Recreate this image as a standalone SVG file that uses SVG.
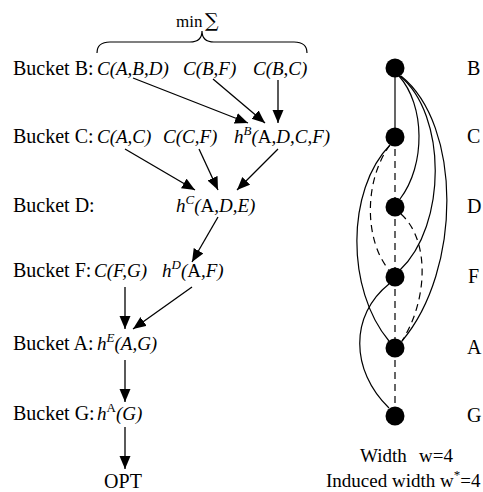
<svg xmlns="http://www.w3.org/2000/svg" width="483" height="492" viewBox="0 0 483 492">
<defs>
<marker id="ah" markerUnits="userSpaceOnUse" markerWidth="14" markerHeight="12" refX="13" refY="5.5" orient="auto">
<path d="M0,0 L13,5.5 L0,11 Z" fill="#000"/>
</marker>
<style>
text{font-family:"Liberation Serif","Times New Roman",serif;font-size:20px;fill:#000}
.i{font-style:italic;font-size:19px}
.n{font-style:normal}
.sup{font-size:13px}
.supn{font-size:13px;font-style:normal}
.cap{font-size:19px}
.arr{stroke:#000;stroke-width:1.3;fill:none;marker-end:url(#ah)}
.e{stroke:#000;stroke-width:1.2;fill:none}
.d{stroke-dasharray:7,5}
.node{fill:#000}
</style>
</defs>
<rect width="483" height="492" fill="#fff"/>

<g id="header">
<text x="176" y="27" style="font-size:17px">min</text>
<text x="205" y="27" style="font-family:'DejaVu Serif','Liberation Serif',serif;font-size:19px">∑</text>
<path class="e" d="M97,53 Q97,42 110,42 L190,42 Q202,42 202,31 Q202,42 214,42 L294,42 Q307,42 307,53"/>
</g>

<g id="bucketB">
<text x="13" y="75">Bucket B:</text>
<text x="97" y="75" class="i">C(A,B,D)</text>
<text x="183" y="75" class="i">C(B,F)</text>
<text x="253" y="75" class="i">C(B,C)</text>
</g>

<g id="bucketC">
<text x="13" y="143">Bucket C:</text>
<text x="97" y="143" class="i">C(A,C)</text>
<text x="163" y="143" class="i">C(C,F)</text>
<text x="234" y="143" class="i">h<tspan class="sup" dy="-8">B</tspan><tspan dy="8">(</tspan><tspan class="n">A</tspan>,D,C,F)</text>
</g>

<g id="bucketD">
<text x="13" y="212">Bucket D:</text>
<text x="176" y="212" class="i">h<tspan class="sup" dy="-8">C</tspan><tspan dy="8">(</tspan><tspan class="n">A</tspan>,D,E)</text>
</g>

<g id="bucketF">
<text x="13" y="277">Bucket F:</text>
<text x="94" y="277" class="i">C(F,G)</text>
<text x="162" y="277" class="i">h<tspan class="sup" dy="-8">D</tspan><tspan dy="8">(</tspan><tspan class="n">A</tspan>,F)</text>
</g>

<g id="bucketA">
<text x="13" y="350">Bucket A:</text>
<text x="97" y="350" class="i">h<tspan class="sup" dy="-8">E</tspan><tspan dy="8">(A,G)</tspan></text>
</g>

<g id="bucketG">
<text x="13" y="420">Bucket G:</text>
<text x="97" y="420" class="i">h<tspan class="supn" dy="-8">A</tspan><tspan dy="8">(G)</tspan></text>
</g>

<g id="opt">
<text x="123" y="488" text-anchor="middle">OPT</text>
</g>

<g id="connectors">
<line class="arr" x1="133" y1="78" x2="248" y2="123"/>
<line class="arr" x1="213" y1="79" x2="265" y2="123"/>
<line class="arr" x1="278" y1="80" x2="278" y2="123"/>
<line class="arr" x1="125" y1="149" x2="195" y2="190"/>
<line class="arr" x1="199" y1="149" x2="218" y2="190"/>
<line class="arr" x1="278" y1="149" x2="237" y2="190"/>
<line class="arr" x1="218" y1="217" x2="192" y2="262"/>
<line class="arr" x1="125" y1="287" x2="125" y2="329"/>
<line class="arr" x1="192" y1="287" x2="133" y2="329"/>
<line class="arr" x1="125" y1="360" x2="125" y2="402"/>
<line class="arr" x1="125" y1="427" x2="125" y2="469"/>
</g>

<g id="graph-edges">
<line class="e" x1="395" y1="68" x2="395" y2="137"/>
<line class="e d" x1="395" y1="137" x2="395" y2="207"/>
<line class="e d" x1="395" y1="207" x2="395" y2="277"/>
<line class="e d" x1="395" y1="277" x2="395" y2="348"/>
<line class="e d" x1="395" y1="348" x2="395" y2="416"/>
<path class="e" d="M399,76 C425,105 426,165 400,199"/>
<path class="e" d="M400,76 C447,115 447,225 400,270"/>
<path class="e" d="M401,76 C462,125 462,270 402,341"/>
<path class="e d" d="M401,214 C430,240 428,300 402,341"/>
<path class="e" d="M390,145 C346,190 346,290 389,341"/>
<path class="e d" d="M390,145 C364,180 364,240 389,270"/>
<path class="e" d="M389,284 C350,315 350,370 389,408"/>
</g>

<g id="nodeB"><circle class="node" cx="395" cy="68" r="9.5"/><text x="467" y="75">B</text></g>
<g id="nodeC"><circle class="node" cx="395" cy="137" r="9.5"/><text x="467" y="143">C</text></g>
<g id="nodeD"><circle class="node" cx="395" cy="207" r="9.5"/><text x="467" y="213">D</text></g>
<g id="nodeF"><circle class="node" cx="395" cy="277" r="9.5"/><text x="468" y="283">F</text></g>
<g id="nodeA"><circle class="node" cx="395" cy="348" r="9.5"/><text x="467" y="354">A</text></g>
<g id="nodeG"><circle class="node" cx="395" cy="416" r="9.5"/><text x="467" y="422">G</text></g>

<g id="caption">
<text class="cap" x="360" y="462">Width<tspan x="419">w=4</tspan></text>
<text class="cap" x="326" y="487">Induced width w<tspan class="sup" dy="-8">*</tspan><tspan dy="8">=4</tspan></text>
</g>
</svg>
